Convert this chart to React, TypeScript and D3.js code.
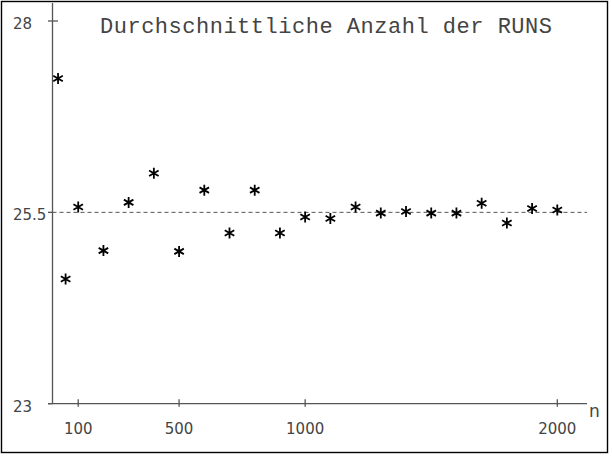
import React from "react";
import * as d3 from "d3";

const nValues = [20, 50, 100, 200, 300, 400, 500, 600, 700, 800, 900, 1000, 1100, 1200, 1300, 1400, 1500, 1600, 1700, 1800, 1900, 2000];
const avgRuns = [27.25, 24.63, 25.57, 25.0, 25.63, 26.01, 24.99, 25.79, 25.23, 25.79, 25.23, 25.44, 25.42, 25.57, 25.49, 25.51, 25.49, 25.49, 25.62, 25.36, 25.55, 25.53];
const xTicks = [100, 500, 1000, 2000];
const yTicks = [23, 25.5, 28];
const refValue = 25.5;
const title = "Durchschnittliche Anzahl der RUNS";
const xAxisLabel = "n";

const W = 612;
const H = 456;

const asterisk: d3.SymbolType = {
  draw(ctx: any, size: number) {
    const r = Math.sqrt(size) / 2;
    ctx.moveTo(0, -r);
    ctx.lineTo(0, r);
    const dx = r * Math.cos(Math.PI / 6);
    const dy = r * Math.sin(Math.PI / 6);
    ctx.moveTo(-dx, -dy);
    ctx.lineTo(dx, dy);
    ctx.moveTo(-dx, dy);
    ctx.lineTo(dx, -dy);
  },
};

export default function App() {
  const x = d3.scaleLinear().domain([0, 2000]).range([53, 557.3]);
  const y = d3.scaleLinear().domain([23, 28]).range([403.7, 21]);
  const symbolPath = d3.symbol().type(asterisk).size(121)() as string;
  const axisColor = "#555";
  const textColor = "#444";
  const x0 = 52.5;
  const yBase = y(23);

  return (
    <svg
      width={W}
      height={H}
      style={{ position: "absolute", left: 0, top: 0, background: "#fff" }}
    >
      <rect x={1.5} y={1.5} width={606} height={451} fill="none" stroke="#000" strokeWidth={1.4} />
      {/* title */}
      <text
        x={100}
        y={33}
        fontFamily="'Liberation Mono', 'DejaVu Sans Mono', monospace"
        fontSize={22}
        fill="#444"
        textLength={452}
        lengthAdjust="spacing"
      >
        {title}
      </text>
      {/* reference dashed line */}
      <line
        x1={x0}
        x2={587}
        y1={y(refValue)}
        y2={y(refValue)}
        stroke={axisColor}
        strokeWidth={1}
        strokeDasharray="4,3"
      />
      {/* y axis */}
      <line x1={x0} x2={x0} y1={3} y2={yBase} stroke={axisColor} strokeWidth={1.3} />
      {yTicks.map((t) => (
        <g key={"yt" + t}>
          <line x1={48} x2={t === 28 ? 58 : x0} y1={y(t)} y2={y(t)} stroke={axisColor} strokeWidth={1.3} />
          <text x={13} y={y(t) + 8} fontFamily="'DejaVu Sans'" fontSize={15} fill={textColor}>
            {t}
          </text>
        </g>
      ))}
      {/* x axis */}
      <line x1={48} x2={587} y1={yBase} y2={yBase} stroke={axisColor} strokeWidth={1.3} />
      {xTicks.map((t) => (
        <g key={"xt" + t}>
          <line x1={x(t)} x2={x(t)} y1={yBase - 4.5} y2={yBase + 3} stroke={axisColor} strokeWidth={1.3} />
          <text
            x={x(t)}
            y={433.5}
            textAnchor="middle"
            fontFamily="'DejaVu Sans'"
            fontSize={15}
            fill={textColor}
          >
            {t}
          </text>
        </g>
      ))}
      <text x={589} y={417} fontFamily="'DejaVu Sans'" fontSize={17} fill={textColor}>
        {xAxisLabel}
      </text>
      {/* data points */}
      {nValues.map((n, i) => (
        <path
          key={"p" + n}
          d={symbolPath}
          transform={`translate(${x(n)},${y(avgRuns[i])})`}
          fill="none"
          stroke="#000"
          strokeWidth={1.8}
        />
      ))}
    </svg>
  );
}
